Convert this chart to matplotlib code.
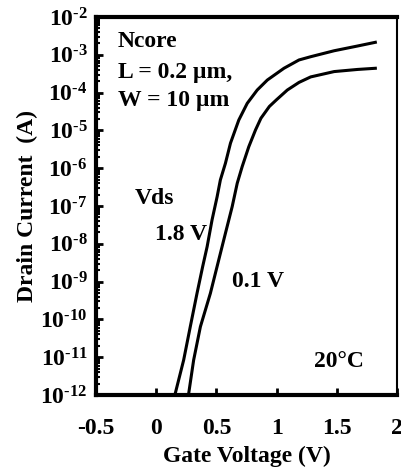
import numpy as np
import matplotlib
matplotlib.use('Agg')
import matplotlib.pyplot as plt
from matplotlib.ticker import LogLocator, NullFormatter

plt.rcParams['font.family'] = 'Liberation Serif'
plt.rcParams['font.weight'] = 'bold'
plt.rcParams['axes.unicode_minus'] = False

# gate voltage (V) and drain current (A)
vg_18 = [0.155, 0.228, 0.283, 0.339, 0.386, 0.423, 0.464, 0.506, 0.533, 0.575, 0.617,
         0.686, 0.756, 0.839, 0.923, 1.061, 1.186, 1.283, 1.478, 1.673, 1.82]
id_18 = [1e-12, 8.4e-12, 6.4e-11, 4.9e-10, 2.5e-9, 8.4e-9, 4.3e-8, 1.76e-7, 4.9e-7,
         1.35e-6, 4.6e-6, 1.88e-5, 5.2e-5, 1.17e-4, 2.15e-4, 4.4e-4, 7.3e-4, 8.9e-4,
         1.28e-3, 1.71e-3, 2.14e-3]
vg_01 = [0.268, 0.311, 0.367, 0.45, 0.519, 0.575, 0.631, 0.673, 0.714, 0.769, 0.825,
         0.87, 0.94, 1.0, 1.089, 1.186, 1.283, 1.478, 1.673, 1.82]
id_01 = [1e-12, 8.4e-12, 6.4e-11, 4.9e-10, 3.7e-9, 1.9e-8, 9.6e-8, 4.0e-7, 1.1e-6,
         3.7e-6, 1.03e-5, 2.1e-5, 4.3e-5, 6.5e-5, 1.17e-4, 1.86e-4, 2.6e-4, 3.6e-4,
         4.1e-4, 4.4e-4]

xticks = [-0.5, 0, 0.5, 1, 1.5, 2]
xlabels = ['-0.5', '0', '0.5', '1', '1.5', '2']
ydecades = list(range(-2, -13, -1))

fig = plt.figure(figsize=(4.01, 4.76), dpi=100)
ax = fig.add_axes([96/401, 1-395/476, 301/401, 378/476])

ax.semilogy(vg_18, id_18, color='black', lw=2.2)
ax.semilogy(vg_01, id_01, color='black', lw=2.2)

ax.set_xlim(-0.5, 2)
ax.set_ylim(1e-12, 1e-2)

ax.set_xticks(xticks)
ax.set_xticklabels(xlabels, fontsize=17)
ax.set_yticks([10.0**d for d in ydecades])
ax.set_yticklabels(['$\\mathregular{10^{\u2010%d}}$' % -d for d in ydecades], fontsize=17)
ax.yaxis.set_minor_locator(LogLocator(base=10, subs=np.arange(2, 10), numticks=20))
ax.yaxis.set_minor_formatter(NullFormatter())

ax.tick_params(axis='both', which='major', direction='in', width=2, length=5)
ax.tick_params(axis='y', which='minor', direction='in', width=1.5, length=3)
ax.tick_params(axis='x', pad=16.5)
ax.tick_params(axis='y', pad=6)
ax.tick_params(top=False, right=False)

for s in ['left', 'top', 'bottom']:
    ax.spines[s].set_linewidth(3)
ax.spines['right'].set_linewidth(1.5)

ax.set_xlabel('Gate Voltage (V)', fontsize=17, fontweight='bold', labelpad=5)
ax.set_ylabel('Drain Current  (A)', fontsize=17, fontweight='bold', labelpad=2)

txt = dict(fontsize=17, fontweight='bold', ha='left', va='baseline')
ax.text(-0.317, 10**-2.794, 'Ncore', **txt)
ax.text(-0.317, 10**-3.606, 'L = 0.2 \u00b5m,', **txt)
ax.text(-0.317, 10**-4.354, 'W = 10 \u00b5m', **txt)
ax.text(-0.175, 10**-6.947, 'Vds', **txt)
ax.text(-0.008, 10**-7.899, '1.8 V', **txt)
ax.text(0.633, 10**-9.143, '0.1 V', **txt)
ax.text(1.308, 10**-11.251, '20\u00b0C', **txt)

fig.savefig('out.png', dpi=100)
